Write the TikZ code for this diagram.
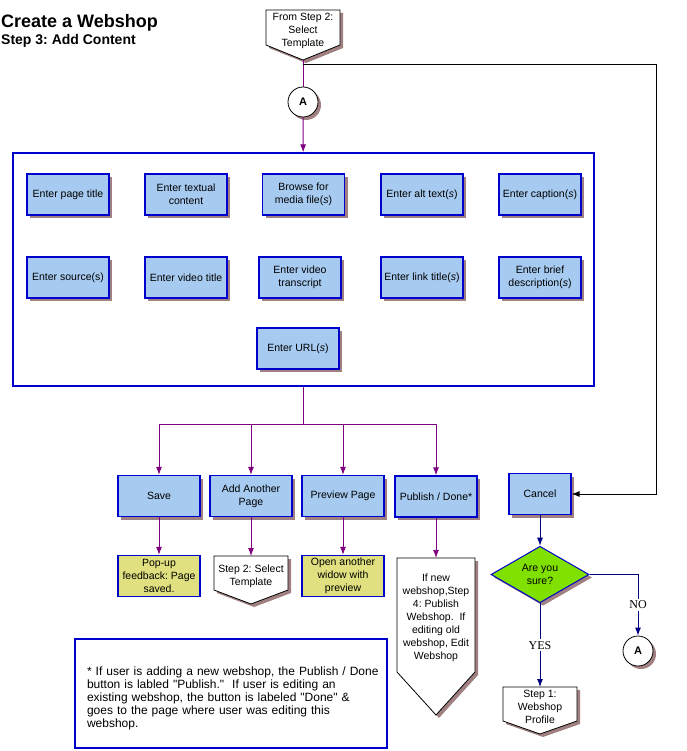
\documentclass[tikz,border=0pt]{standalone}
\usepackage{fontspec}
\setmainfont{Liberation Sans}
\newfontfamily\serifface{Liberation Serif}
\usetikzlibrary{arrows.meta,shapes.geometric,shadows}

\definecolor{boxfill}{RGB}{166,202,240}
\definecolor{boxline}{RGB}{0,0,205}
\definecolor{shadowc}{RGB}{160,128,128}
\definecolor{flowpurple}{RGB}{128,0,128}
\definecolor{flownavy}{RGB}{0,0,128}
\definecolor{notefill}{RGB}{224,224,128}
\definecolor{yesgreen}{RGB}{128,224,0}

\newcommand{\boxfont}{\fontsize{10.5}{13}\selectfont}

% off-page connector: name, centre x, top y, half width, side height, point depth, text
\newcommand{\offpage}[7]{%
  \fill[shadowc] (#2-#4+3,#3+3) -- (#2+#4+3,#3+3) -- (#2+#4+3,#3+#5+3)
    -- (#2+3,#3+#5+#6+3) -- (#2-#4+3,#3+#5+3) -- cycle;
  \draw[fill=white,line width=0.8pt] (#2-#4,#3) -- (#2+#4,#3) -- (#2+#4,#3+#5)
    -- (#2,#3+#5+#6) -- (#2-#4,#3+#5) -- cycle;
  \node[offtext] (#1) at (#2,#3+#5/2+3) {#7};
  \coordinate (#1-top) at (#2,#3);
  \coordinate (#1-tip) at (#2,#3+#5+#6);
}

\tikzset{
  boxshadow/.style={drop shadow={shadow xshift=3pt,shadow yshift=-3pt,fill=shadowc,opacity=1}},
  basebox/.style={rectangle,draw=boxline,line width=1.2pt,minimum width=82pt,minimum height=41pt,
    inner sep=1pt,align=center,font=\boxfont},
  taskbox/.style={basebox,fill=boxfill,boxshadow},
  resultbox/.style={basebox,fill=notefill},
  groupbox/.style={rectangle,draw=boxline,line width=1.2pt,minimum width=581pt,minimum height=233pt},
  offtext/.style={align=center,font=\boxfont,inner sep=0pt},
  connector/.style={circle,draw,line width=0.8pt,fill=white,minimum size=30pt,inner sep=0pt,
    font=\bfseries\fontsize{11}{11}\selectfont,boxshadow},
  decision/.style={diamond,draw=boxline,line width=1pt,fill=yesgreen,minimum width=98pt,
    minimum height=55pt,inner sep=0pt,align=center,font=\boxfont,boxshadow},
  flowline/.style={draw=flowpurple,line width=1pt},
  flow/.style={flowline,-{Latex[length=8pt,width=6pt]}},
  navyflow/.style={draw=flownavy,line width=1pt,-{Latex[length=8pt,width=6pt]}},
  backflow/.style={draw=black,line width=1pt,-{Latex[length=8pt,width=6pt]}},
  answer/.style={fill=white,inner sep=2pt,font=\serifface\fontsize{12}{12}\selectfont}
}

\begin{document}
\frenchspacing
\begin{tikzpicture}[x=1pt,y=-1pt]
\useasboundingbox (0,0) rectangle (686,751);

% title
\node[anchor=base west,inner sep=0pt,font=\bfseries\fontsize{18}{18}\selectfont] (title) at (1,28) {Create a Webshop};
\node[anchor=base west,inner sep=0pt,font=\bfseries\fontsize{14}{14}\selectfont] (subtitle) at (1,45) {Step 3: Add Content};

% entry from step 2
\offpage{fromstep}{303}{10}{37}{35}{15}{From Step 2:\\Select\\Template}
\node[connector] (A1) at (303,102) {A};
\coordinate (loopstart) at (303,65);
\coordinate (loopturn) at (656,65);

% content fields
\node[groupbox] (content) at (303.5,269.5) {};

\node[taskbox] (pagetitle) at (68,194.5) {Enter page title};
\node[taskbox] (textual) at (186,194.5) {Enter textual\\content};
\node[taskbox] (media) at (303.5,194.5) {Browse for\\media file(\textit{s})};
\node[taskbox] (alttext) at (422,194.5) {Enter alt text(\textit{s})};
\node[taskbox] (caption) at (540,194.5) {Enter caption(\textit{s})};

\node[taskbox] (source) at (68,277.5) {Enter source(s)};
\node[taskbox] (videotitle) at (186,277.5) {Enter video title};
\node[taskbox] (transcript) at (300,277.5) {Enter video\\transcript};
\node[taskbox] (linktitle) at (422,277.5) {Enter link title(\textit{s})};
\node[taskbox] (brief) at (540,277.5) {Enter brief\\description(\textit{s})};

\node[taskbox] (url) at (298,348.5) {Enter URL(\textit{s})};

% actions
\node[taskbox] (save) at (159,496) {Save};
\node[taskbox] (addpage) at (251,496) {Add Another\\Page};
\node[taskbox] (preview) at (343,496) {Preview Page};
\node[taskbox] (publish) at (436,496.5) {Publish / Done*};
\node[taskbox,minimum width=62pt] (cancel) at (540,494) {Cancel};

% results
\node[resultbox] (savefb) at (159,576) {Pop-up\\feedback: Page\\saved.};
\offpage{step2}{251}{556}{37}{34}{14}{Step 2: Select\\Template}
\node[resultbox] (previewfb) at (343,576) {Open another\\widow with\\preview};
\offpage{pubnext}{436}{558}{39}{114}{43}{If new\\webshop,Step\\4: Publish\\Webshop.\ \ If\\editing old\\webshop, Edit\\Webshop}

% cancel branch
\node[decision] (sure) at (540,574.5) {Are you\\sure?};
\offpage{step1}{540}{687}{37}{34}{13}{Step 1:\\Webshop\\Profile}
\node[connector] (A2) at (638,651) {A};

% footnote
\node[rectangle,draw=boxline,line width=1.2pt,minimum width=312pt,minimum height=109pt] (note) at (231,693.5) {};
\node[inner sep=0pt,text width=292pt,align=left,font=\fontsize{12}{13}\selectfont] (notetext) at (233,698)
  {* If user is adding a new webshop, the Publish / Done\\
   button is labled \textquotedbl Publish.\textquotedbl\ \ If user is editing an\\
   existing webshop, the button is labeled \textquotedbl Done\textquotedbl\ \&\\
   goes to the page where user was editing this\\
   webshop.};

% connectors
\draw[flowline] (fromstep-tip) -- (A1);
\draw[flow] (A1) -- (content);
\draw[backflow] (loopstart) -- (loopturn) |- (cancel);

\coordinate (split) at (303.5,424);
\draw[flowline] (content) -- (split);
\draw[flow] (split) -| (save);
\draw[flow] (split) -| (addpage);
\draw[flow] (split) -| (preview);
\draw[flow] (split) -| (publish);

\draw[flow] (save) -- (savefb);
\draw[flow] (addpage) -- (step2-top);
\draw[flow] (preview) -- (previewfb);
\draw[flow] (publish) -- (pubnext-top);

\draw[navyflow] (cancel) -- (sure);
\draw[navyflow] (sure) -| (A2) node[answer,pos=0.75] {NO};
\draw[navyflow] (sure) -- (step1-top) node[answer,pos=0.5] {YES};

\end{tikzpicture}
\end{document}
